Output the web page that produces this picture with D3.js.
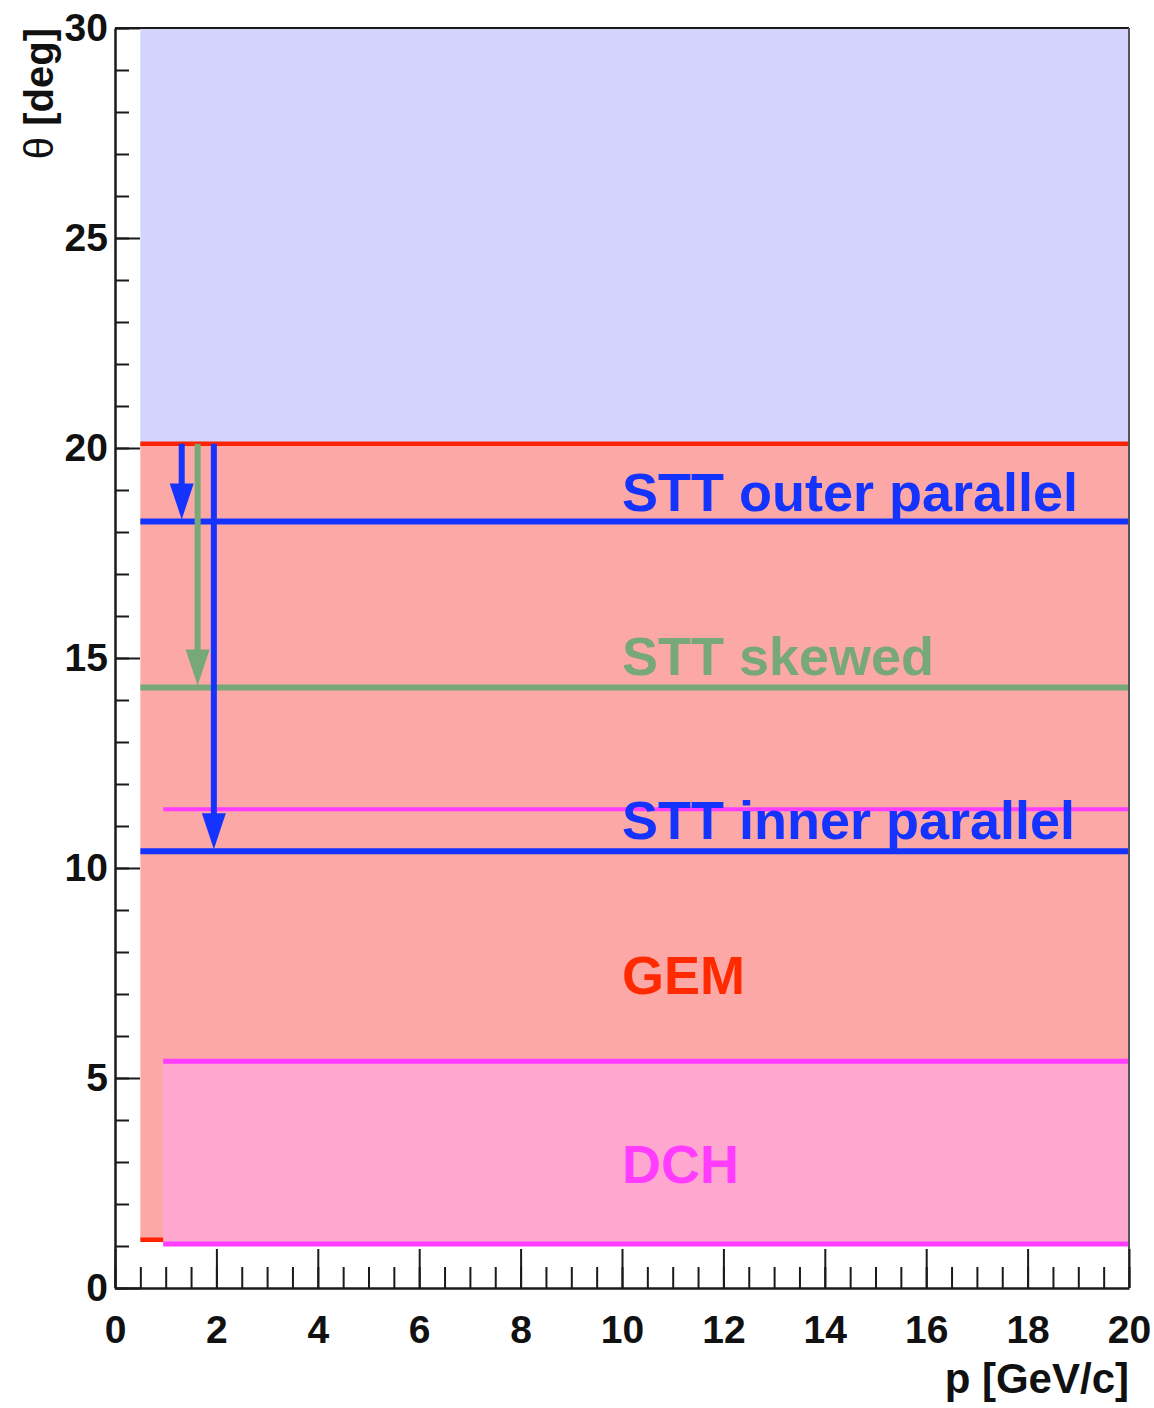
<!DOCTYPE html>
<html>
<head>
<meta charset="utf-8">
<script src="https://cdn.jsdelivr.net/npm/d3@7"></script>
<style>
  body { margin: 0; background: #fff; }
  text { font-family: "Liberation Sans", Arial, Helvetica, sans-serif; font-weight: bold; }
</style>
</head>
<body>
<svg id="chart" width="1154" height="1408"></svg>
<script>
// ---- axis ticks ----
const pMajorTicks = d3.range(0, 20.001, 2);
const pMinorTicks = d3.range(0, 20.001, 0.5);
const thetaMajorTicks = d3.range(0, 30.001, 5);
const thetaMinorTicks = d3.range(0, 30.001, 1);

// ---- acceptance bands: momentum range [p] and polar angle range [deg] ----
const bandNames = ["forward", "GEM", "DCH"];
const bandPMin = [0.5, 0.5, 0.95];
const bandPMax = [20, 20, 20];
const bandThetaMin = [20.1, 1.15, 1.05];
const bandThetaMax = [30, 20.1, 5.4];

// ---- detector limit lines (theta in deg) ----
const limitNames = ["GEM max", "GEM min", "DCH inner", "DCH max", "DCH min", "STT outer", "STT skewed", "STT inner"];
const limitTheta = [20.1, 1.15, 11.4, 5.4, 1.05, 18.25, 14.3, 10.4];
const limitPMin = [0.5, 0.5, 0.95, 0.95, 0.95, 0.5, 0.5, 0.5];
const limitPMax = [20, 20, 20, 20, 20, 20, 20, 20];

// ---- arrows from the GEM limit down to each STT limit ----
const arrowNames = ["STT outer", "STT skewed", "STT inner"];
const arrowP = [1.316, 1.63, 1.95];
const arrowFrom = [20.1, 20.1, 20.1];
const arrowTo = [18.25, 14.3, 10.4];

// ---- detector labels ----
const labelNames = ["STT outer parallel", "STT skewed", "STT inner parallel", "GEM", "DCH"];
const labelP = [10, 10, 10, 10, 10];
const labelTheta = [18.5, 14.6, 10.7, 7.0, 2.5];

// ---- styles ----
const bandFill = { forward: "#d3d3fd", GEM: "#fca8a6", DCH: "#fea8d0" };
const limitStyle = {
  "GEM max":    { color: "#ff2200", width: 4.5 },
  "GEM min":    { color: "#ff2200", width: 4.5 },
  "DCH inner":  { color: "#ff3cff", width: 4 },
  "DCH max":    { color: "#ff3cff", width: 5 },
  "DCH min":    { color: "#ff3cff", width: 5 },
  "STT outer":  { color: "#1433ff", width: 6 },
  "STT skewed": { color: "#77a877", width: 6 },
  "STT inner":  { color: "#1433ff", width: 6 }
};
const arrowColor = { "STT outer": "#1433ff", "STT skewed": "#77a877", "STT inner": "#1433ff" };
const labelColor = {
  "STT outer parallel": "#1433ff",
  "STT skewed": "#77a877",
  "STT inner parallel": "#1433ff",
  "GEM": "#ff2a00",
  "DCH": "#ff3cff"
};

// ---- layout ----
const plotLeft = 115, plotRight = 1129, plotTop = 28, plotBottom = 1288;
const svg = d3.select("#chart");

const x = d3.scaleLinear().domain([0, 20]).range([plotLeft, plotRight]);
const y = d3.scaleLinear().domain([0, 30]).range([plotBottom, plotTop]);

// bands
svg.append("g").selectAll("rect")
  .data(bandNames.map((n, i) => ({ n, i })))
  .join("rect")
  .attr("x", d => x(bandPMin[d.i]))
  .attr("width", d => x(bandPMax[d.i]) - x(bandPMin[d.i]))
  .attr("y", d => y(bandThetaMax[d.i]))
  .attr("height", d => y(bandThetaMin[d.i]) - y(bandThetaMax[d.i]))
  .attr("fill", d => bandFill[d.n]);

// lower GEM limit sits under the DCH band, so draw it first and repaint the band over it
const lines = limitNames.map((n, i) => ({ n, i }));
const linesG = svg.append("g");
linesG.selectAll("line.lim")
  .data(lines.filter(d => d.n === "GEM min"))
  .join("line")
  .attr("x1", d => x(limitPMin[d.i])).attr("x2", d => x(limitPMax[d.i]))
  .attr("y1", d => y(limitTheta[d.i])).attr("y2", d => y(limitTheta[d.i]))
  .attr("stroke", d => limitStyle[d.n].color)
  .attr("stroke-width", d => limitStyle[d.n].width);

const dchIdx = bandNames.indexOf("DCH");
linesG.append("rect")
  .attr("x", x(bandPMin[dchIdx]))
  .attr("width", x(bandPMax[dchIdx]) - x(bandPMin[dchIdx]))
  .attr("y", y(bandThetaMax[dchIdx]))
  .attr("height", y(bandThetaMin[dchIdx]) - y(bandThetaMax[dchIdx]))
  .attr("fill", bandFill.DCH);

linesG.selectAll("line.rest")
  .data(lines.filter(d => d.n !== "GEM min"))
  .join("line")
  .attr("x1", d => x(limitPMin[d.i])).attr("x2", d => x(limitPMax[d.i]))
  .attr("y1", d => y(limitTheta[d.i])).attr("y2", d => y(limitTheta[d.i]))
  .attr("stroke", d => limitStyle[d.n].color)
  .attr("stroke-width", d => limitStyle[d.n].width);

// arrows
const headLen = 36, headHalf = 12;
const arrows = svg.append("g").selectAll("g")
  .data(arrowNames.map((n, i) => ({ n, i })))
  .join("g");
arrows.append("line")
  .attr("x1", d => x(arrowP[d.i])).attr("x2", d => x(arrowP[d.i]))
  .attr("y1", d => y(arrowFrom[d.i]))
  .attr("y2", d => y(arrowTo[d.i]) - headLen + 2)
  .attr("stroke", d => arrowColor[d.n])
  .attr("stroke-width", 6);
arrows.append("path")
  .attr("d", d => {
    const cx = x(arrowP[d.i]), ty = y(arrowTo[d.i]) - 2;
    return `M${cx - headHalf},${ty - headLen}L${cx + headHalf},${ty - headLen}L${cx},${ty}Z`;
  })
  .attr("fill", d => arrowColor[d.n]);

// labels
svg.append("g").selectAll("text")
  .data(labelNames.map((n, i) => ({ n, i })))
  .join("text")
  .attr("x", d => x(labelP[d.i]))
  .attr("y", d => y(labelTheta[d.i]))
  .attr("font-size", 54)
  .attr("fill", d => labelColor[d.n])
  .text(d => d.n);

// ---- axes ----
const axisColor = "#1a1a1a";

// frame (top and right edges)
svg.append("line").attr("x1", plotLeft).attr("x2", plotRight).attr("y1", plotTop).attr("y2", plotTop)
  .attr("stroke", axisColor).attr("stroke-width", 2);
svg.append("line").attr("x1", plotRight).attr("x2", plotRight).attr("y1", plotTop).attr("y2", plotBottom)
  .attr("stroke", "#555").attr("stroke-width", 2);

// y axis: minor ticks
svg.append("g").attr("transform", `translate(${plotLeft},0)`)
  .call(d3.axisLeft(y).tickValues(thetaMinorTicks).tickSizeInner(-14).tickSizeOuter(0).tickFormat(""))
  .call(g => g.select(".domain").remove())
  .call(g => g.selectAll("line").attr("stroke", axisColor).attr("stroke-width", 2));
// y axis: major ticks and labels
svg.append("g").attr("transform", `translate(${plotLeft},0)`)
  .call(d3.axisLeft(y).tickValues(thetaMajorTicks).tickSizeInner(-25).tickSizeOuter(0).tickPadding(7).tickFormat(d3.format("d")))
  .call(g => g.select(".domain").attr("stroke", axisColor).attr("stroke-width", 2.5))
  .call(g => g.selectAll("line").attr("stroke", axisColor).attr("stroke-width", 2))
  .call(g => g.selectAll("text").attr("font-size", 39).attr("fill", "#111")
    .attr("font-family", "'Liberation Sans', Arial, sans-serif").attr("font-weight", "bold"));

// x axis: minor ticks
svg.append("g").attr("transform", `translate(0,${plotBottom})`)
  .call(d3.axisBottom(x).tickValues(pMinorTicks).tickSizeInner(-21).tickSizeOuter(0).tickFormat(""))
  .call(g => g.select(".domain").remove())
  .call(g => g.selectAll("line").attr("stroke", axisColor).attr("stroke-width", 2));
// x axis: major ticks and labels
svg.append("g").attr("transform", `translate(0,${plotBottom})`)
  .call(d3.axisBottom(x).tickValues(pMajorTicks).tickSizeInner(-39).tickSizeOuter(0).tickPadding(27).tickFormat(d3.format("d")))
  .call(g => g.select(".domain").attr("stroke", axisColor).attr("stroke-width", 2.5))
  .call(g => g.selectAll("line").attr("stroke", axisColor).attr("stroke-width", 2))
  .call(g => g.selectAll("text").attr("font-size", 39).attr("fill", "#111")
    .attr("font-family", "'Liberation Sans', Arial, sans-serif").attr("font-weight", "bold"));

// axis titles
const yTitle = svg.append("text")
  .attr("transform", `translate(53,${plotTop}) rotate(-90)`)
  .attr("text-anchor", "end")
  .attr("font-size", 40)
  .attr("fill", "#111");
yTitle.append("tspan").attr("font-weight", "normal").text("θ");
yTitle.append("tspan").text(" [deg]");

svg.append("text")
  .attr("x", plotRight)
  .attr("y", 1393)
  .attr("text-anchor", "end")
  .attr("font-size", 42)
  .attr("fill", "#111")
  .text("p [GeV/c]");
</script>
</body>
</html>
